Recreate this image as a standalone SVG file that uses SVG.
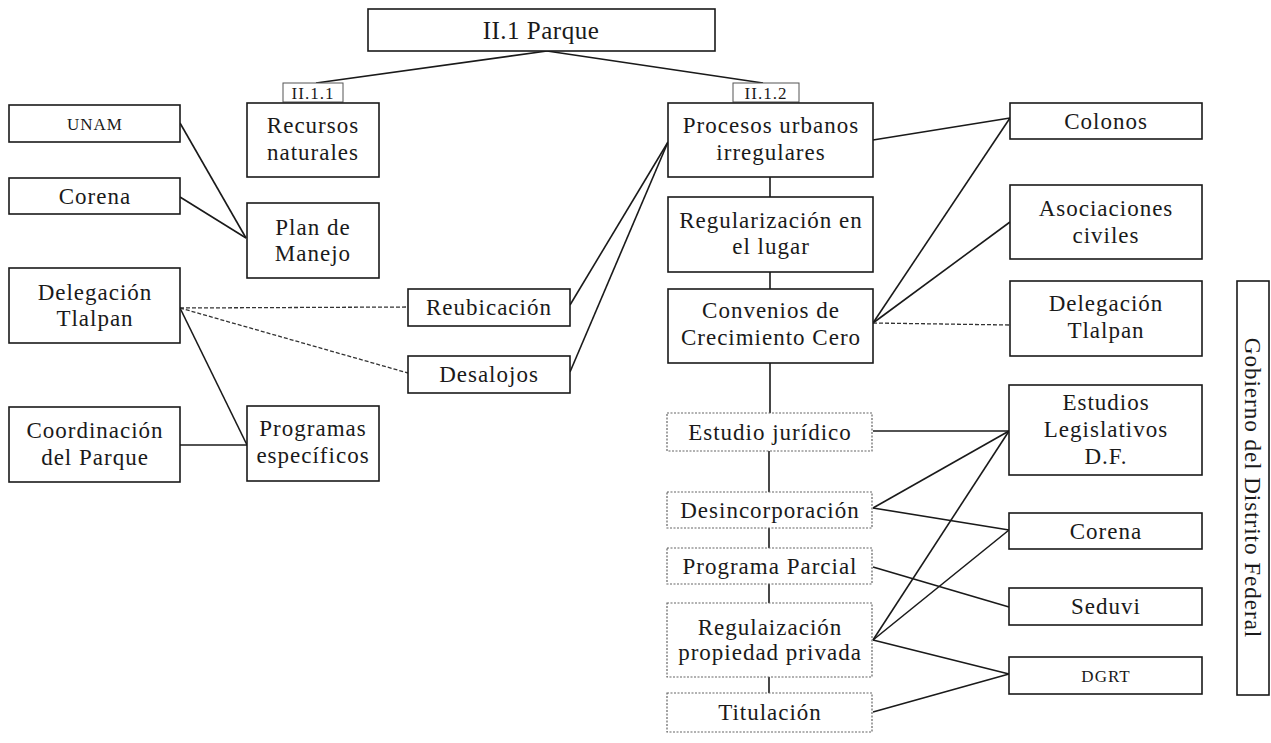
<svg xmlns="http://www.w3.org/2000/svg" width="1271" height="743" viewBox="0 0 1271 743">
<style>
.b{fill:#fff;stroke:#1a1a1a;stroke-width:1.6}
.d{fill:#fff;stroke:#666;stroke-width:1.2;stroke-dasharray:2 1.5}
.l{fill:#fff;stroke:#555;stroke-width:1}
text{font-family:"Liberation Serif","Times New Roman",serif;fill:#1a1a1a;text-anchor:middle;font-size:23px;letter-spacing:1px}
.s{font-size:17px}
.t{font-size:25px;letter-spacing:0.5px}
.c line{stroke:#1a1a1a;stroke-width:1.6}
.c .da{stroke:#333;stroke-width:1.3;stroke-dasharray:4 2}
</style>
<rect width="1271" height="743" fill="#fff"/>
<g class="c" id="connectors">
<line x1="547" y1="51" x2="316" y2="83"/>
<line x1="547" y1="51" x2="763" y2="83"/>
<line x1="180" y1="123" x2="246" y2="238"/>
<line x1="180" y1="197" x2="246" y2="238"/>
<line x1="180" y1="308" x2="247" y2="445"/>
<line x1="180" y1="445" x2="247" y2="445"/>
<line class="da" x1="180" y1="308" x2="408" y2="307"/>
<line class="da" x1="180" y1="308" x2="408" y2="373"/>
<line x1="570" y1="305" x2="668" y2="142"/>
<line x1="570" y1="372" x2="668" y2="142"/>
<line x1="770" y1="177" x2="770" y2="197"/>
<line x1="770" y1="272" x2="770" y2="289"/>
<line x1="770" y1="363" x2="770" y2="413"/>
<line x1="769" y1="451" x2="769" y2="492"/>
<line x1="769" y1="528" x2="769" y2="548"/>
<line x1="769" y1="584" x2="769" y2="603"/>
<line x1="769" y1="677" x2="769" y2="693"/>
<line x1="873" y1="140" x2="1010" y2="118"/>
<line x1="873" y1="323" x2="1010" y2="118"/>
<line x1="873" y1="323" x2="1010" y2="222"/>
<line class="da" x1="873" y1="323" x2="1010" y2="325"/>
<line x1="873" y1="431" x2="1009" y2="431"/>
<line x1="873" y1="508" x2="1009" y2="431"/>
<line x1="873" y1="508" x2="1009" y2="530"/>
<line x1="873" y1="567" x2="1009" y2="607"/>
<line x1="873" y1="640" x2="1009" y2="431"/>
<line x1="873" y1="640" x2="1009" y2="530"/>
<line x1="873" y1="640" x2="1009" y2="674"/>
<line x1="873" y1="712" x2="1009" y2="674"/>
</g>
<g id="parque"><rect class="b" x="368" y="9" width="347" height="42"/><text class="t" x="541" y="39">II.1 Parque</text></g>
<g id="l111"><rect class="l" x="283" y="83" width="60" height="19"/><text class="s" x="313" y="99">II.1.1</text></g>
<g id="l112"><rect class="l" x="733" y="83" width="66" height="19"/><text class="s" x="766" y="99">II.1.2</text></g>
<g id="unam"><rect class="b" x="9" y="105" width="171" height="37"/><text class="s" x="95" y="130">UNAM</text></g>
<g id="corena1"><rect class="b" x="9" y="178" width="171" height="36"/><text x="95" y="204">Corena</text></g>
<g id="delegacion1"><rect class="b" x="9" y="268" width="171" height="75"/><text x="95" y="300">Delegación</text><text x="95" y="326">Tlalpan</text></g>
<g id="coordinacion"><rect class="b" x="9" y="407" width="171" height="75"/><text x="95" y="438">Coordinación</text><text x="95" y="465">del Parque</text></g>
<g id="recursos"><rect class="b" x="247" y="103" width="132" height="74"/><text x="313" y="133">Recursos</text><text x="313" y="160">naturales</text></g>
<g id="plan"><rect class="b" x="247" y="203" width="132" height="75"/><text x="313" y="235">Plan de</text><text x="313" y="261">Manejo</text></g>
<g id="programas"><rect class="b" x="247" y="406" width="132" height="75"/><text x="313" y="436">Programas</text><text x="313" y="463">específicos</text></g>
<g id="reubicacion"><rect class="b" x="408" y="289" width="162" height="37"/><text x="489" y="315">Reubicación</text></g>
<g id="desalojos"><rect class="b" x="408" y="356" width="162" height="37"/><text x="489" y="382">Desalojos</text></g>
<g id="procesos"><rect class="b" x="668" y="103" width="205" height="74"/><text x="771" y="133">Procesos urbanos</text><text x="771" y="160">irregulares</text></g>
<g id="regularizacion"><rect class="b" x="668" y="197" width="205" height="75"/><text x="771" y="228">Regularización en</text><text x="771" y="254">el lugar</text></g>
<g id="convenios"><rect class="b" x="668" y="289" width="205" height="74"/><text x="771" y="318">Convenios de</text><text x="771" y="345">Crecimiento Cero</text></g>
<g id="estudio"><rect class="d" x="667" y="413" width="205" height="38"/><text x="770" y="440">Estudio jurídico</text></g>
<g id="desincorporacion"><rect class="d" x="667" y="492" width="205" height="36"/><text x="770" y="518">Desincorporación</text></g>
<g id="programa"><rect class="d" x="667" y="548" width="205" height="36"/><text x="770" y="574">Programa Parcial</text></g>
<g id="regulaizacion"><rect class="d" x="667" y="603" width="205" height="74"/><text x="770" y="635">Regulaización</text><text x="770" y="660">propiedad privada</text></g>
<g id="titulacion"><rect class="d" x="667" y="693" width="205" height="39"/><text x="770" y="720">Titulación</text></g>
<g id="colonos"><rect class="b" x="1010" y="103" width="192" height="36"/><text x="1106" y="129">Colonos</text></g>
<g id="asociaciones"><rect class="b" x="1010" y="185" width="192" height="74"/><text x="1106" y="216">Asociaciones</text><text x="1106" y="243">civiles</text></g>
<g id="delegacion2"><rect class="b" x="1010" y="281" width="192" height="75"/><text x="1106" y="311">Delegación</text><text x="1106" y="338">Tlalpan</text></g>
<g id="estudios"><rect class="b" x="1009" y="385" width="193" height="90"/><text x="1106" y="410">Estudios</text><text x="1106" y="437">Legislativos</text><text x="1106" y="464">D.F.</text></g>
<g id="corena2"><rect class="b" x="1009" y="513" width="193" height="36"/><text x="1106" y="539">Corena</text></g>
<g id="seduvi"><rect class="b" x="1009" y="588" width="193" height="37"/><text x="1106" y="614">Seduvi</text></g>
<g id="dgrt"><rect class="b" x="1009" y="657" width="193" height="37"/><text class="s" x="1106" y="682">DGRT</text></g>
<g id="gobierno"><rect class="b" x="1237" y="281" width="32" height="414"/><text transform="translate(1253,488) rotate(90)" x="0" y="8">Gobierno del Distrito Federal</text></g>
</svg>
